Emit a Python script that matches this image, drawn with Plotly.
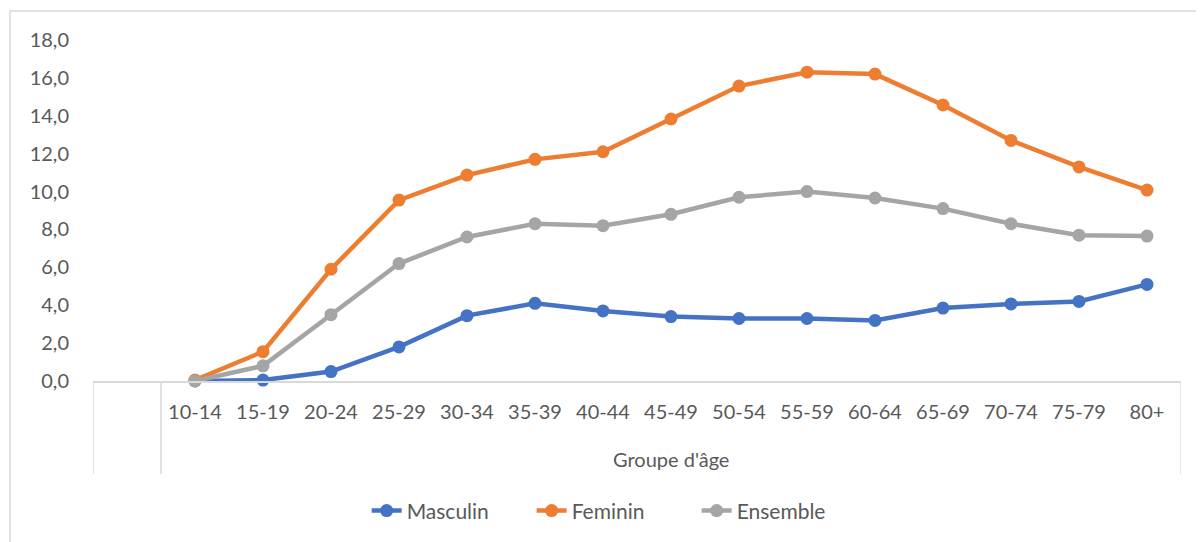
import plotly.graph_objects as go

# Groupes d'âge (first slot is the blank category of the original sheet)
categories = [" ", "10-14", "15-19", "20-24", "25-29", "30-34", "35-39", "40-44",
              "45-49", "50-54", "55-59", "60-64", "65-69", "70-74", "75-79", "80+"]
axis_group = "Groupe d'âge"

masculin = [None, 0.0, 0.05, 0.5, 1.8, 3.45, 4.1, 3.7, 3.4, 3.3, 3.3, 3.2, 3.85, 4.07, 4.2, 5.1]
feminin = [None, 0.05, 1.55, 5.9, 9.55, 10.87, 11.7, 12.1, 13.83, 15.57, 16.3, 16.2, 14.57, 12.7, 11.3, 10.08]
ensemble = [None, 0.0, 0.8, 3.5, 6.2, 7.6, 8.3, 8.2, 8.8, 9.7, 10.0, 9.66, 9.1, 8.3, 7.7, 7.65]

series = [("Masculin", masculin, "#4472C4"),
          ("Feminin", feminin, "#ED7D31"),
          ("Ensemble", ensemble, "#A5A5A5")]

grid_col = "#D9D9D9"
text_col = "#595959"

fig = go.Figure()

for name, vals, col in series:
    fig.add_trace(go.Scatter(
        x=categories,
        y=vals,
        name=name,
        mode="lines+markers",
        line=dict(color=col, width=4.5),
        marker=dict(color=col, size=13),
        cliponaxis=False,
    ))

# category table dividers (blank slot | age groups), like Excel's multi-level axis
n = len(categories)
dividers = [-0.5, 0.5, n - 0.5]
shapes = [dict(type="line", xref="x", yref="paper", x0=d, x1=d, y0=0, y1=-0.273,
               line=dict(color=grid_col, width=1.5)) for d in dividers]
# outer chart border
shapes.append(dict(type="rect", xref="paper", yref="paper",
                   x0=-0.0763, x1=1.05, y0=-0.7, y1=1.085,
                   line=dict(color=grid_col, width=1.5), layer="below"))

fig.update_layout(
    width=1204,
    height=542,
    margin=dict(l=85, r=31, t=32, b=169),
    paper_bgcolor="white",
    plot_bgcolor="white",
    font=dict(family="Lato, Open Sans, sans-serif", size=20, color=text_col),
    separators=", ",
    showlegend=True,
    legend=dict(orientation="h", x=0.479, xanchor="center", y=-0.381,
                yanchor="middle", font=dict(size=21, color=text_col),
                entrywidth=120, entrywidthmode="pixels",
                traceorder="normal"),
    shapes=shapes,
    annotations=[dict(text=axis_group, xref="x", yref="paper",
                      x=(dividers[1] + dividers[2]) / 2, y=-0.229,
                      yanchor="middle", showarrow=False,
                      font=dict(size=20, color=text_col))],
)

fig.update_xaxes(
    type="category",
    showline=True, linecolor=grid_col, linewidth=1.5,
    showgrid=False, ticks="",
    ticklabelstandoff=12,
    range=[-0.5, n - 0.5],
    tickfont=dict(size=20, color=text_col),
)
fig.update_yaxes(
    range=[0, 18], dtick=2, tickformat=".1f",
    showgrid=False, zeroline=False, showline=False,
    ticklabelstandoff=23,
    tickfont=dict(size=20, color=text_col),
)

fig.write_html("out.html")
